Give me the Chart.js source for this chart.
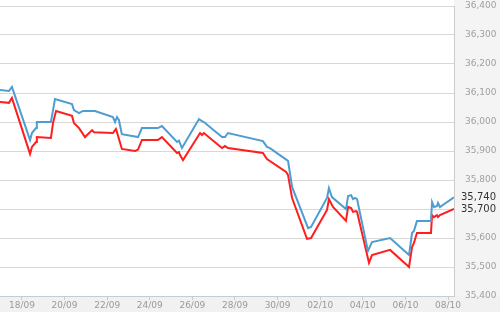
<!DOCTYPE html>
<html>
<head>
<meta charset="utf-8">
<script src="https://cdn.jsdelivr.net/npm/chart.js@4.4.1/dist/chart.umd.min.js"></script>
<style>
    body { margin: 0; background: #fff; }
    #wrap { width: 500px; height: 312px; }
</style>
</head>
<body>
<div id="wrap"><canvas id="priceChart" width="500" height="312"></canvas></div>
<script>
// x values are days counted from 18/09
var blueDays = [-1.03, -0.61, -0.47, 0.38, 0.47, 0.66, 0.70, 1.36, 1.46, 1.55, 2.35, 2.44, 2.68, 2.86, 3.43,
    4.27, 4.37, 4.46, 4.55, 4.69, 5.45, 5.63, 6.38, 6.57, 7.28, 7.37, 7.51, 8.31, 8.45, 8.54, 9.39, 9.53, 9.67,
    11.31, 11.50, 11.64, 12.49, 12.68, 13.43, 13.57, 14.32, 14.41, 14.55, 15.21, 15.31, 15.45, 15.54, 15.63, 15.73,
    16.24, 16.43, 17.28, 18.17, 18.31, 18.40, 18.54, 19.20, 19.25, 19.34, 19.48, 19.53, 19.62, 20.28];
var blueValues = [36110, 36107, 36121, 35938, 35962, 35979, 36000, 36000, 36041, 36079, 36062, 36041, 36031, 36038, 36038,
    36017, 36000, 36017, 36007, 35958, 35948, 35979, 35979, 35986, 35931, 35936, 35910, 36010, 36003, 36000, 35948, 35948, 35962,
    35934, 35914, 35910, 35866, 35776, 35634, 35638, 35738, 35772, 35741, 35700, 35745, 35748, 35734, 35738, 35734,
    35555, 35586, 35600, 35541, 35617, 35624, 35659, 35659, 35724, 35707, 35710, 35721, 35707, 35740];

var redDays = [-1.03, -0.61, -0.47, 0.38, 0.47, 0.66, 0.70, 1.36, 1.46, 1.60, 2.35, 2.44, 2.68, 2.96, 3.29, 3.38,
    4.27, 4.41, 4.46, 4.69, 5.31, 5.45, 5.63, 6.38, 6.57, 7.28, 7.37, 7.42, 7.56, 8.36, 8.45, 8.54, 9.39, 9.53, 9.67,
    11.31, 11.50, 12.40, 12.49, 12.68, 13.38, 13.57, 14.32, 14.41, 14.60, 15.21, 15.31, 15.45, 15.54, 15.68, 15.73,
    16.29, 16.43, 17.28, 18.17, 18.31, 18.40, 18.54, 19.20, 19.25, 19.34, 19.48, 19.53, 19.62, 20.28];
var redValues = [36069, 36066, 36083, 35890, 35914, 35931, 35948, 35945, 35997, 36038, 36021, 35997, 35979, 35948, 35972, 35965,
    35962, 35976, 35965, 35907, 35900, 35905, 35938, 35938, 35948, 35893, 35896, 35886, 35869, 35962, 35955, 35962, 35910, 35917, 35910,
    35893, 35872, 35828, 35817, 35738, 35597, 35600, 35697, 35734, 35707, 35659, 35707, 35703, 35690, 35693, 35690,
    35514, 35541, 35559, 35500, 35569, 35583, 35617, 35617, 35679, 35672, 35679, 35672, 35679, 35700];

var xTickDays = [0, 2, 4, 6, 8, 10, 12, 14, 16, 18, 20];
var xTickLabels = ['18/09', '20/09', '22/09', '24/09', '26/09', '28/09', '30/09', '02/10', '04/10', '06/10', '08/10'];

var blueColor = '#4d9dd3';
var redColor = '#ff1e1e';

function toPoints(days, values) {
    var pts = [];
    for (var i = 0; i < days.length; i++) {
        pts.push({ x: days[i], y: values[i] });
    }
    return pts;
}

function fmt(v) {
    return Number(v).toLocaleString('en-US');
}

// grey panels behind the axes
var panelBg = {
    id: 'panelBg',
    beforeDraw: function (chart) {
        var ctx = chart.ctx, a = chart.chartArea;
        ctx.save();
        ctx.fillStyle = '#ffffff';
        ctx.fillRect(0, 0, chart.width, chart.height);
        ctx.fillStyle = '#f4f4f4';
        ctx.fillRect(a.right, 0, chart.width - a.right, chart.height);
        ctx.fillStyle = '#f1f1f1';
        ctx.fillRect(0, a.bottom, chart.width, chart.height - a.bottom);
        ctx.restore();
    }
};

// last values written on the right axis
var lastLabels = {
    id: 'lastLabels',
    afterDraw: function (chart) {
        var ctx = chart.ctx, y = chart.scales.y, a = chart.chartArea;
        var lasts = [blueValues[blueValues.length - 1], redValues[redValues.length - 1]];
        ctx.save();
        ctx.font = '10px "DejaVu Sans"';
        ctx.textBaseline = 'middle';
        lasts.forEach(function (v) {
            var py = y.getPixelForValue(v);
            ctx.fillStyle = '#f4f4f4';
            ctx.fillRect(a.right + 2, py - 5, chart.width - a.right - 2, 10);
        });
        ctx.fillStyle = '#333333';
        lasts.forEach(function (v) {
            ctx.fillText(fmt(v), a.right + 7, y.getPixelForValue(v));
        });
        ctx.restore();
    }
};

var chart = new Chart(document.getElementById('priceChart').getContext('2d'), {
    type: 'line',
    data: {
        datasets: [{
            data: toPoints(blueDays, blueValues),
            borderColor: blueColor,
            borderWidth: 2,
            pointRadius: 0,
            tension: 0
        }, {
            data: toPoints(redDays, redValues),
            borderColor: redColor,
            borderWidth: 2,
            pointRadius: 0,
            tension: 0
        }]
    },
    options: {
        responsive: false,
        animation: false,
        layout: { padding: { top: 6, left: 0, right: 0, bottom: 0 } },
        plugins: {
            legend: { display: false },
            tooltip: { enabled: false }
        },
        scales: {
            x: {
                type: 'linear',
                min: -1.03,
                max: 20.28,
                afterBuildTicks: function (scale) {
                    scale.ticks = xTickDays.map(function (d) { return { value: d }; });
                },
                afterFit: function (scale) {
                    scale.height = 16;
                    scale.paddingLeft = 0;
                    scale.paddingRight = 0;
                },
                grid: {
                    drawOnChartArea: false,
                    drawTicks: true,
                    tickLength: 4,
                    color: '#c4ccd4'
                },
                border: { display: true, color: '#c4ccd4' },
                ticks: {
                    autoSkip: false,
                    maxRotation: 0,
                    padding: 0,
                    color: '#999999',
                    font: { family: 'DejaVu Sans', size: 9 },
                    callback: function (v) {
                        var i = xTickDays.indexOf(v);
                        return i >= 0 ? xTickLabels[i] : '';
                    }
                }
            },
            y: {
                position: 'right',
                min: 35400,
                max: 36400,
                afterFit: function (scale) {
                    scale.width = 46;
                    scale.paddingTop = 0;
                    scale.paddingBottom = 0;
                },
                grid: {
                    color: '#d8d8d8',
                    drawTicks: false
                },
                border: { display: true, color: '#cccccc' },
                ticks: {
                    stepSize: 100,
                    padding: 11,
                    color: '#a0a0a0',
                    font: { family: 'DejaVu Sans', size: 9 },
                    callback: function (v) { return fmt(v); }
                }
            }
        }
    },
    plugins: [panelBg, lastLabels]
});
</script>
</body>
</html>
